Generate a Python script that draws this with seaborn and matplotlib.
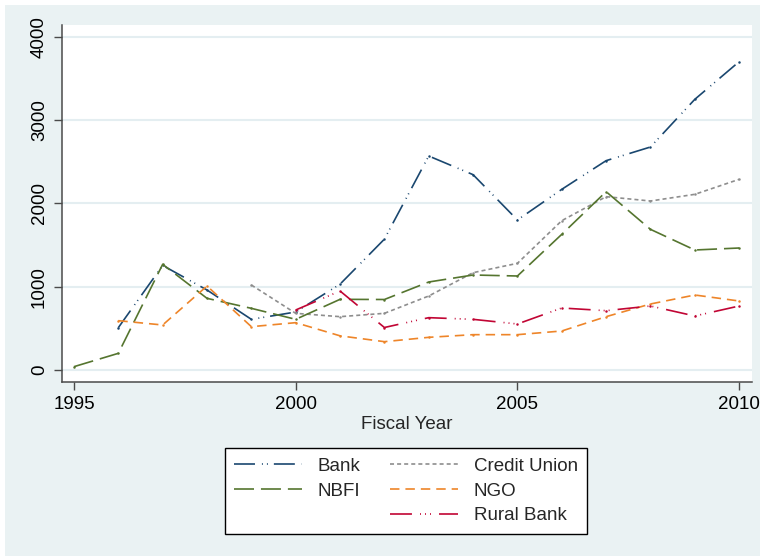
import numpy as np
import pandas as pd
import matplotlib
matplotlib.use("Agg")
import matplotlib.pyplot as plt
from matplotlib.lines import Line2D
from matplotlib.patches import Rectangle
import seaborn as sns

# ---- data -------------------------------------------------------------
years = list(range(1995, 2011))
nan = np.nan
bank = [nan, 508, 1255, 960, 608, 696, 1030, 1570, 2568, 2344, 1800, 2168, 2512, 2676, 3248, 3700]
credit_union = [nan, nan, nan, nan, 1020, 680, 640, 680, 888, 1168, 1280, 1792, 2080, 2028, 2108, 2288]
nbfi = [40, 200, 1268, 860, 740, 608, 848, 846, 1056, 1140, 1128, 1628, 2140, 1688, 1440, 1464]
ngo = [nan, 592, 540, 1008, 520, 568, 410, 340, 392, 424, 424, 468, 640, 792, 900, 828]
rural_bank = [nan, nan, nan, nan, nan, 720, 948, 510, 628, 608, 552, 744, 712, 768, 648, 768]

series_names = ["Bank", "Credit Union", "NBFI", "NGO", "Rural Bank"]
series_values = [bank, credit_union, nbfi, ngo, rural_bank]
x_ticks = [1995, 2000, 2005, 2010]
y_ticks = [0, 1000, 2000, 3000, 4000]

# ---- styling ----------------------------------------------------------
colors = {
    "Bank": "#1a476f",
    "Credit Union": "#8e8e8e",
    "NBFI": "#55752f",
    "NGO": "#ee8529",
    "Rural Bank": "#c10534",
}
dashes = {
    "Bank": (15.1, 5.0, 0.7, 2.9, 0.7, 4.3),
    "Credit Union": (2.9, 2.2),
    "NBFI": (14.4, 5.0),
    "NGO": (6.8, 4.3),
    "Rural Bank": (15.8, 5.8, 0.7, 2.9, 0.7, 2.9, 0.7, 5.8),
}

sns.set_style("white")
plt.rcParams["font.family"] = ["Liberation Sans", "DejaVu Sans"]
plt.rcParams["lines.scale_dashes"] = False

bg = "#eaf2f3"
grid_col = "#e4eef1"
axis_col = "#4a4a4a"
fs = 13.5

rows = []
for name, vals in zip(series_names, series_values):
    for yr, v in zip(years, vals):
        if not np.isnan(v):
            rows.append({"year": yr, "value": v, "type": name})
df = pd.DataFrame(rows)

fig = plt.figure(figsize=(7.6, 5.56), dpi=100, facecolor="white")
fig.patches.append(Rectangle((5 / 760, 0), 1, 1 - 5 / 556, transform=fig.transFigure,
                             facecolor=bg, edgecolor="none", zorder=-10))

ax = fig.add_axes([62 / 760, 1 - 382 / 556, 690 / 760, 357 / 556])
ax.set_facecolor("white")

sns.lineplot(data=df, x="year", y="value", hue="type", style="type",
             hue_order=series_names, style_order=series_names,
             palette=colors, dashes=dashes, markers={n: "o" for n in series_names},
             markersize=1.8, markeredgewidth=0, linewidth=1.2, legend=False, ax=ax)

ax.set_xlim(1994.73, 2010.29)
ax.set_ylim(-144, 4140)
ax.set_xticks(x_ticks)
ax.set_yticks(y_ticks)
ax.set_xticklabels([str(t) for t in x_ticks], fontsize=fs, color="black")
ax.set_yticklabels([str(t) for t in y_ticks], fontsize=fs, color="black",
                   rotation=90, va="center")
ax.yaxis.grid(True, color=grid_col, linewidth=1.5)
ax.xaxis.grid(False)
ax.set_axisbelow(True)

for side in ("top", "right"):
    ax.spines[side].set_visible(False)
for side in ("left", "bottom"):
    ax.spines[side].set_color(axis_col)
    ax.spines[side].set_linewidth(1.1)
ax.tick_params(axis="both", which="major", direction="out", length=6,
               width=1.0, color=axis_col, pad=4, left=True, bottom=True)

ax.set_xlabel("Fiscal Year", fontsize=fs, labelpad=2)
ax.set_ylabel("")

# legend filled row by row: Bank | Credit Union, NBFI | NGO, (blank) | Rural Bank
def legend_line(name):
    return Line2D([], [], color=colors[name], linestyle=(0, dashes[name]), linewidth=1.2)

blank = Line2D([], [], linestyle="none")
leg_handles = [legend_line("Bank"), legend_line("NBFI"), blank,
               legend_line("Credit Union"), legend_line("NGO"), legend_line("Rural Bank")]
leg_labels = ["Bank", "NBFI", "", "Credit Union", "NGO", "Rural Bank"]
leg = fig.legend(leg_handles, leg_labels, ncol=2, loc="center",
                 bbox_to_anchor=(406 / 760, 1 - 491 / 556), fontsize=fs,
                 frameon=True, fancybox=False, framealpha=1, edgecolor="black",
                 handlelength=3.6, handletextpad=0.85, columnspacing=1.6,
                 labelspacing=0.4, borderpad=0.5)
leg.get_frame().set_linewidth(1.0)

fig.savefig("out.png", dpi=100, facecolor=fig.get_facecolor())
